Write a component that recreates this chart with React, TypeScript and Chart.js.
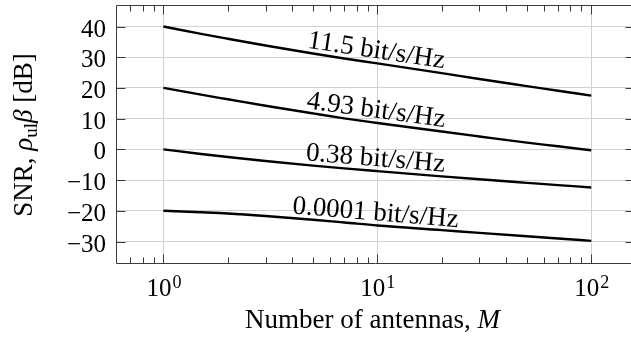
import React, { useEffect, useRef } from "react";
import { Chart, registerables } from "chart.js";

Chart.register(...registerables);

// ---- data ----
const antennas = [1, 1.5, 2, 3, 5, 7, 10, 20, 30, 50, 70, 100];
const snrRate115 = [40, 37.6, 36.0, 33.8, 31.2, 29.6, 28.0, 24.8, 22.9, 20.6, 19.1, 17.5];
const snrRate493 = [20, 17.8, 16.3, 14.2, 11.7, 10.1, 8.6, 5.8, 4.2, 2.2, 1.0, -0.3];
const snrRate038 = [0, -1.5, -2.5, -3.8, -5.3, -6.2, -7.1, -8.8, -9.75, -10.9, -11.65, -12.4];
const snrRate00001 = [-20, -20.5, -20.9, -21.7, -22.9, -23.8, -24.8, -26.3, -27.2, -28.3, -29.0, -29.8];
const seriesLabels = ["11.5 bit/s/Hz", "4.93 bit/s/Hz", "0.38 bit/s/Hz", "0.0001 bit/s/Hz"];
const labelAtM = 9.7;

const xTicks = [1, 10, 100];
const xTickBase = ["10", "10", "10"];
const xTickExp = ["0", "1", "2"];
const xMinorTicks = [0.7, 0.8, 0.9, 2, 3, 4, 5, 6, 7, 8, 9, 20, 30, 40, 50, 60, 70, 80, 90];
const yTicks = [-30, -20, -10, 0, 10, 20, 30, 40];
const yTickLabels = ["\u221230", "\u221220", "\u221210", "0", "10", "20", "30", "40"];
const xTitle = "Number of antennas, ";
const xTitleVar = "M";

const SERIF = '"Liberation Serif", "Times New Roman", serif';

function interpLog(xs: number[], ys: number[], x: number) {
  const lx = Math.log10(x);
  for (let i = 0; i < xs.length - 1; i++) {
    const a = Math.log10(xs[i]);
    const b = Math.log10(xs[i + 1]);
    if (lx >= a && lx <= b) {
      const t = (lx - a) / (b - a);
      return ys[i] + t * (ys[i + 1] - ys[i]);
    }
  }
  return ys[ys.length - 1];
}

const decorPlugin = {
  id: "decor",
  beforeDatasetsDraw(chart: any) {
    const { ctx, chartArea } = chart;
    const xs = chart.scales.x;
    const ys = chart.scales.y;
    const L = Math.round(chartArea.left) + 0.5;
    const R = Math.round(chartArea.right) + 0.5;
    const T = Math.round(chartArea.top) + 0.5;
    const B = Math.round(chartArea.bottom) + 0.5;
    ctx.save();
    ctx.strokeStyle = "#3a3a3a";
    ctx.lineWidth = 1;
    ctx.beginPath();
    xTicks.forEach((v) => {
      const x = Math.round(xs.getPixelForValue(v)) + 0.5;
      ctx.moveTo(x, B);
      ctx.lineTo(x, B - 9);
      ctx.moveTo(x, T);
      ctx.lineTo(x, T + 9);
    });
    xMinorTicks.forEach((v) => {
      const x = Math.round(xs.getPixelForValue(v)) + 0.5;
      ctx.moveTo(x, B);
      ctx.lineTo(x, B - 6);
      ctx.moveTo(x, T);
      ctx.lineTo(x, T + 6);
    });
    yTicks.forEach((v) => {
      const y = Math.round(ys.getPixelForValue(v)) + 0.5;
      ctx.moveTo(L, y);
      ctx.lineTo(L + 9, y);
      ctx.moveTo(R, y);
      ctx.lineTo(R - 9, y);
    });
    ctx.stroke();
    ctx.beginPath();
    ctx.rect(L, T, R - L, B - T);
    ctx.stroke();
    ctx.restore();
  },
  afterDatasetsDraw(chart: any) {
    const { ctx } = chart;
    const xs = chart.scales.x;
    const ys = chart.scales.y;
    ctx.save();
    ctx.fillStyle = "#000";
    ctx.font = `25px ${SERIF}`;
    ctx.textAlign = "right";
    ctx.textBaseline = "alphabetic";
    yTicks.forEach((v, i) => {
      const y = ys.getPixelForValue(v);
      ctx.fillText(yTickLabels[i], 106, y + 10);
    });
    xTicks.forEach((v, i) => {
      const x = xs.getPixelForValue(v);
      ctx.font = `25px ${SERIF}`;
      const wb = ctx.measureText(xTickBase[i]).width;
      ctx.font = `18px ${SERIF}`;
      const we = ctx.measureText(xTickExp[i]).width;
      const start = x - (wb + we) / 2;
      ctx.textAlign = "left";
      ctx.font = `25px ${SERIF}`;
      ctx.fillText(xTickBase[i], start, 296);
      ctx.font = `18px ${SERIF}`;
      ctx.fillText(xTickExp[i], start + wb + 1, 288);
    });
    ctx.font = `27px ${SERIF}`;
    const w1 = ctx.measureText(xTitle).width;
    ctx.font = `italic 27px ${SERIF}`;
    const w2 = ctx.measureText(xTitleVar).width;
    const xs0 = 372.5 - (w1 + w2) / 2;
    ctx.textAlign = "left";
    ctx.font = `27px ${SERIF}`;
    ctx.fillText(xTitle, xs0, 328);
    ctx.font = `italic 27px ${SERIF}`;
    ctx.fillText(xTitleVar, xs0 + w1, 328);

    const pieces = [
      { t: "SNR, ", f: `27px ${SERIF}`, dy: 0 },
      { t: "\u03C1", f: `italic 27px ${SERIF}`, dy: 0 },
      { t: "ul", f: `19px ${SERIF}`, dy: 5 },
      { t: "\u03B2", f: `italic 27px ${SERIF}`, dy: 0 },
      { t: " [dB]", f: `27px ${SERIF}`, dy: 0 },
    ];
    let total = 0;
    const widths = pieces.map((p) => {
      ctx.font = p.f;
      const w = ctx.measureText(p.t).width;
      total += w;
      return w;
    });
    ctx.save();
    ctx.translate(32, 135);
    ctx.rotate(-Math.PI / 2);
    let cx = -total / 2;
    pieces.forEach((p, i) => {
      ctx.font = p.f;
      ctx.fillText(p.t, cx, p.dy);
      cx += widths[i];
    });
    ctx.restore();

    chart.data.datasets.forEach((ds: any, i: number) => {
      const vals = ds.data.map((d: any) => d.y);
      const px = xs.getPixelForValue(labelAtM);
      const py = ys.getPixelForValue(interpLog(antennas, vals, labelAtM));
      const x1 = xs.getPixelForValue(7);
      const y1 = ys.getPixelForValue(interpLog(antennas, vals, 7));
      const x2 = xs.getPixelForValue(14);
      const y2 = ys.getPixelForValue(interpLog(antennas, vals, 14));
      const ang = Math.atan2(y2 - y1, x2 - x1);
      ctx.save();
      ctx.translate(px, py);
      ctx.rotate(ang);
      ctx.font = `27px ${SERIF}`;
      ctx.textAlign = "center";
      ctx.textBaseline = "alphabetic";
      ctx.fillText(seriesLabels[i], 0, -5);
      ctx.restore();
    });
    ctx.restore();
  },
};

export default function App() {
  const ref = useRef<HTMLCanvasElement | null>(null);
  useEffect(() => {
    if (!ref.current) return;
    const series = [snrRate115, snrRate493, snrRate038, snrRate00001];
    const chart = new Chart(ref.current, {
      type: "line",
      data: {
        datasets: series.map((s, i) => ({
          label: seriesLabels[i],
          data: antennas.map((m, j) => ({ x: m, y: s[j] })),
          borderColor: "#000",
          borderWidth: 2.4,
          pointRadius: 0,
          fill: false,
          cubicInterpolationMode: "monotone" as const,
        })),
      },
      options: {
        responsive: false,
        animation: false,
        devicePixelRatio: 1,
        layout: { padding: { left: 116, top: 5, right: 11, bottom: 78 } },
        plugins: { legend: { display: false }, tooltip: { enabled: false } },
        scales: {
          x: {
            type: "logarithmic",
            min: Math.pow(10, -0.2),
            max: Math.pow(10, 2.2),
            afterBuildTicks: (s: any) => {
              s.ticks = xTicks.map((v) => ({ value: v }));
            },
            afterFit: (s: any) => {
              s.height = 0;
            },
            ticks: { display: false },
            grid: { color: "#d2d2d2", lineWidth: 1, drawTicks: false },
            border: { display: false },
          },
          y: {
            type: "linear",
            min: -37,
            max: 47,
            afterBuildTicks: (s: any) => {
              s.ticks = yTicks.map((v) => ({ value: v }));
            },
            afterFit: (s: any) => {
              s.width = 0;
            },
            ticks: { display: false },
            grid: { color: "#d2d2d2", lineWidth: 1, drawTicks: false },
            border: { display: false },
          },
        },
      },
      plugins: [decorPlugin],
    });
    return () => chart.destroy();
  }, []);
  return (
    <div
      style={{
        position: "fixed",
        left: 0,
        top: 0,
        width: 631,
        height: 341,
        overflow: "hidden",
        background: "#fff",
      }}
    >
      <canvas ref={ref} width={645} height={341} style={{ width: 645, height: 341, display: "block" }} />
    </div>
  );
}
